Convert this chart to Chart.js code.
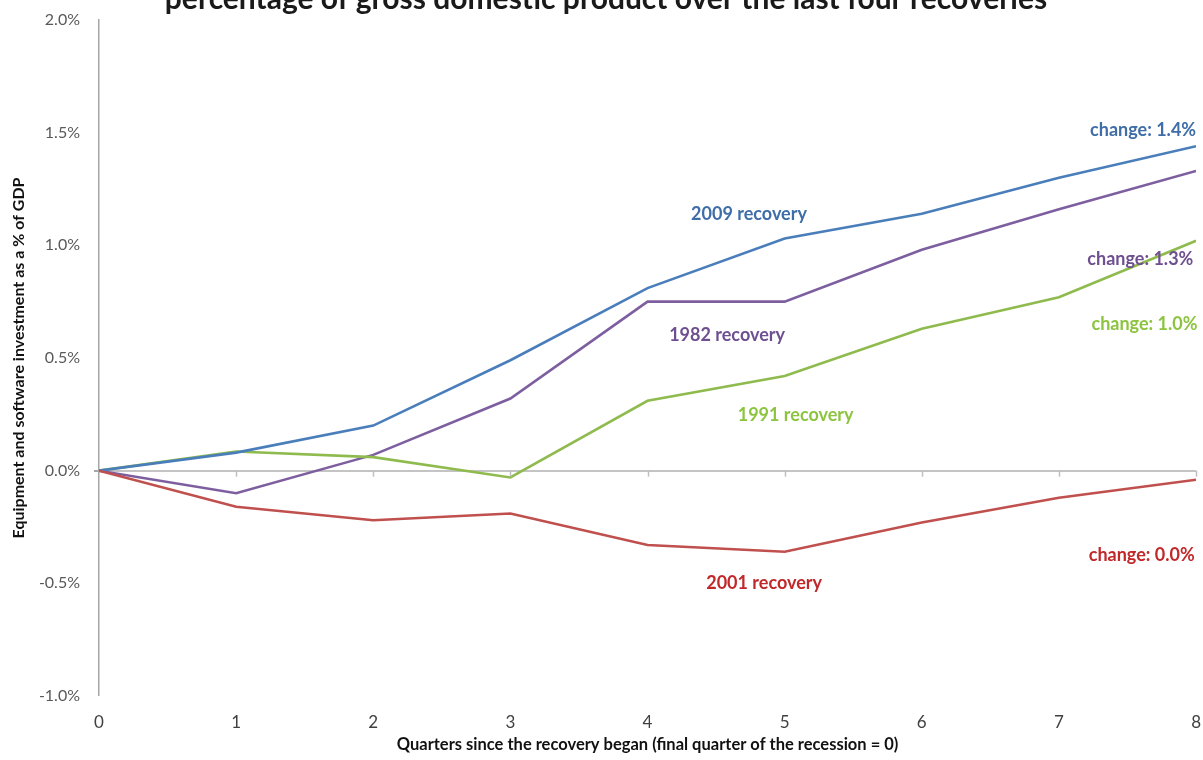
<!DOCTYPE html>
<html>
<head>
<meta charset="utf-8">
<script src="https://cdn.jsdelivr.net/npm/chart.js@4/dist/chart.umd.min.js"></script>
<style>
  html, body { margin: 0; padding: 0; background: #fff; }
  #wrap { width: 1203px; height: 760px; position: relative; }
</style>
</head>
<body>
<div id="wrap"><canvas id="chart" width="1203" height="760"></canvas></div>
<script>
// Quarters since the recovery began
const quarters = [0, 1, 2, 3, 4, 5, 6, 7, 8];

// Change in equipment & software investment as % of GDP (percentage points)
const rec2009 = [0, 0.08, 0.20, 0.49, 0.81, 1.03, 1.14, 1.30, 1.44];
const rec1982 = [0, -0.10, 0.07, 0.32, 0.75, 0.75, 0.98, 1.16, 1.33];
const rec1991 = [0, 0.085, 0.06, -0.03, 0.31, 0.42, 0.63, 0.77, 1.02];
const rec2001 = [0, -0.16, -0.22, -0.19, -0.33, -0.36, -0.23, -0.12, -0.04];

// Y axis ticks
const yTicks = [-1.0, -0.5, 0.0, 0.5, 1.0, 1.5, 2.0];

const titleText = 'percentage of gross domestic product over the last four recoveries';
const yTitle = 'Equipment and software investment as a % of GDP';
const xTitle = 'Quarters since the recovery began (final quarter of the recession = 0)';

// Text annotations (in data units)
const notes = [
    { text: '2009 recovery', x: 4.74, y: 1.14, align: 'center', color: '#3E6DA8' },
    { text: 'change: 1.4%', x: 8.0, y: 1.51, align: 'right', color: '#3E6DA8' },
    { text: '1982 recovery', x: 4.58, y: 0.60, align: 'center', color: '#6E4F90' },
    { text: 'change: 1.3%', x: 7.98, y: 0.94, align: 'right', color: '#6E4F90' },
    { text: 'change: 1.0%', x: 8.01, y: 0.65, align: 'right', color: '#8CC43F' },
    { text: '1991 recovery', x: 5.08, y: 0.245, align: 'center', color: '#8CC43F' },
    { text: 'change: 0.0%', x: 7.99, y: -0.373, align: 'right', color: '#C0282A' },
    { text: '2001 recovery', x: 4.85, y: -0.50, align: 'center', color: '#C0282A' }
];

const FONT = 'Lato, "Open Sans", sans-serif';

function toPoints(vals) {
    return quarters.map((q, i) => ({ x: q, y: vals[i] }));
}

// Draws title, zero-line tick marks and the annotations
const extras = {
    id: 'extras',
    afterDatasetsDraw(chart) {
        const ctx = chart.ctx;
        const xs = chart.scales.x;
        const ys = chart.scales.y;
        const y0 = ys.getPixelForValue(0);

        ctx.save();
        // tick marks on the zero line
        ctx.strokeStyle = '#BFBFBF';
        ctx.lineWidth = 1.5;
        quarters.forEach(q => {
            if (q === 0) return;
            const px = Math.round(xs.getPixelForValue(q)) + 0.5;
            ctx.beginPath();
            ctx.moveTo(px, y0);
            ctx.lineTo(px, y0 + 6);
            ctx.stroke();
        });

        // annotations
        ctx.font = 'bold 18px ' + FONT;
        ctx.textBaseline = 'middle';
        notes.forEach(n => {
            ctx.fillStyle = n.color;
            ctx.textAlign = n.align;
            ctx.fillText(n.text, xs.getPixelForValue(n.x), ys.getPixelForValue(n.y));
        });

        // title, clipped at the top edge like the original
        ctx.font = 'bold 30px ' + FONT;
        ctx.fillStyle = '#1a1a1a';
        ctx.textAlign = 'center';
        ctx.textBaseline = 'alphabetic';
        ctx.fillText(titleText, 606, 9);
        ctx.restore();
    }
};

new Chart(document.getElementById('chart'), {
    type: 'line',
    data: {
        datasets: [
            { label: '2001 recovery', data: toPoints(rec2001), borderColor: '#C0504D' },
            { label: '2009 recovery', data: toPoints(rec2009), borderColor: '#4A7EBB' },
            { label: '1991 recovery', data: toPoints(rec1991), borderColor: '#8FBB4E' },
            { label: '1982 recovery', data: toPoints(rec1982), borderColor: '#7D5FA0' }
        ]
    },
    options: {
        responsive: false,
        animation: false,
        events: [],
        layout: { padding: { top: 20, right: 6, left: 0, bottom: 0 } },
        elements: {
            line: { borderWidth: 2.6, tension: 0, fill: false },
            point: { radius: 0 }
        },
        plugins: {
            legend: { display: false },
            tooltip: { enabled: false }
        },
        scales: {
            x: {
                type: 'linear',
                min: 0,
                max: 8,
                grid: {
                    display: true,
                    drawOnChartArea: false,
                    color: 'rgba(0,0,0,0)',
                    tickLength: 14
                },
                border: { display: false },
                ticks: {
                    stepSize: 1,
                    padding: 2,
                    color: '#404040',
                    font: { family: FONT, size: 17 }
                },
                title: {
                    display: true,
                    text: xTitle,
                    color: '#111',
                    font: { family: FONT, size: 16.5, weight: 'bold' },
                    padding: { top: 0, bottom: 5 }
                },
                afterFit(scale) { scale.height = 64; }
            },
            y: {
                min: -1,
                max: 2,
                afterBuildTicks(scale) {
                    scale.ticks = yTicks.map(v => ({ value: v }));
                },
                grid: {
                    color: ctx => (ctx.tick && ctx.tick.value === 0) ? '#C4C4C4' : 'rgba(0,0,0,0)',
                    lineWidth: ctx => (ctx.tick && ctx.tick.value === 0) ? 2 : 0,
                    tickColor: '#A6A6A6',
                    tickLength: 5,
                    drawTicks: true
                },
                border: { display: true, color: '#A6A6A6', width: 1.5 },
                ticks: {
                    padding: 14,
                    color: '#595959',
                    font: { family: FONT, size: 16 },
                    callback: v => v.toFixed(1) + '%'
                },
                title: {
                    display: true,
                    text: yTitle,
                    color: '#111',
                    font: { family: FONT, size: 16, weight: 'bold' },
                    padding: { top: 9, bottom: 0 }
                },
                afterFit(scale) {
                    scale.width = 99;
                    scale.paddingTop = 10;
                    scale.paddingBottom = 10;
                }
            }
        }
    },
    plugins: [extras]
});
</script>
</body>
</html>
